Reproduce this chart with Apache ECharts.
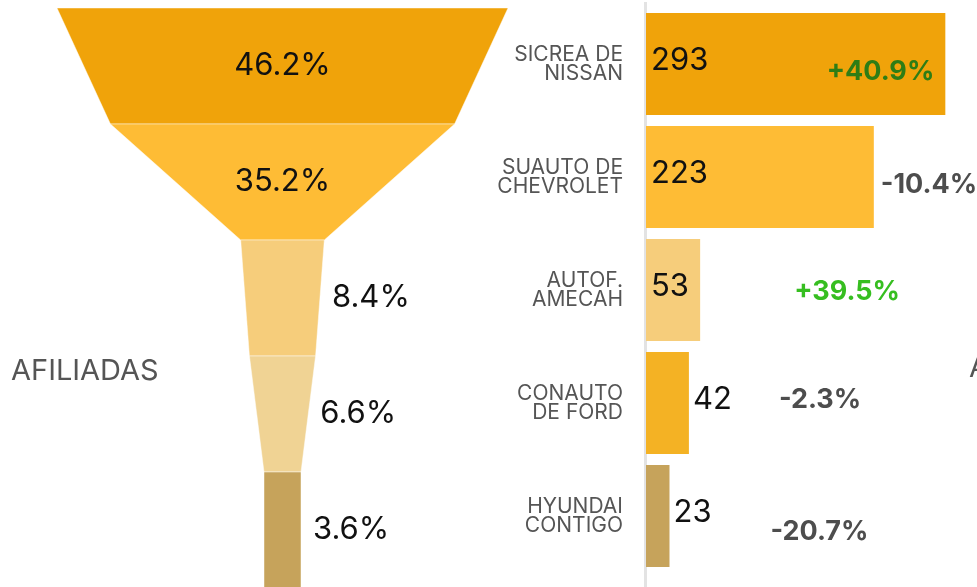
<!DOCTYPE html>
<html>
<head>
<meta charset="utf-8">
<script src="https://cdn.jsdelivr.net/npm/echarts@6/dist/echarts.min.js"></script>
<style>
  html, body { margin: 0; padding: 0; background: #fff; }
  #chart { width: 977px; height: 587px; }
</style>
</head>
<body>
<div id="chart"></div>
<script>
// cuota de mercado por afiliada (%)
var shares = [46.2, 35.2, 8.4, 6.6, 3.6];
var dealers = ['SICREA DE\nNISSAN', 'SUAUTO DE\nCHEVROLET', 'AUTOF.\nAMECAH', 'CONAUTO\nDE FORD', 'HYUNDAI\nCONTIGO'];
var units = [293, 223, 53, 42, 23];
var changes = [40.9, -10.4, 39.5, -2.3, -20.7];

var funnelColors = ['#F0A30A', '#FEBC35', '#F6CD7B', '#F0D394', '#C6A35B'];
var barColors = ['#F0A30A', '#FEBC35', '#F6CD7B', '#F4B224', '#C6A35B'];
var changeColors = ['#2E7D15', '#4D4D4D', '#36BE20', '#4D4D4D', '#4D4D4D'];
// donde va cada etiqueta de variacion
var changeLabelPos = [
    {position: 'insideRight', distance: 11, offset: [0, 8]},
    {position: 'right', distance: 7, offset: [0, 8]},
    {position: 'right', distance: 94, offset: [0, 2]},
    {position: 'right', distance: 90, offset: [0, -3]},
    {position: 'right', distance: 101, offset: [0, 16]}
];

var FONT = 'Inter';

var chart = echarts.init(document.getElementById('chart'), null, {renderer: 'canvas'});

var funnelData = shares.map(function (v, i) {
    return {
        name: dealers[i],
        value: v,
        itemStyle: {color: funnelColors[i]},
        label: {position: i < 2 ? 'inside' : 'right'}
    };
});

var barData = units.map(function (v, i) {
    return {
        value: v,
        itemStyle: {color: barColors[i]},
        label: v > 50 ? {position: 'insideLeft', distance: 5} : {position: 'right', distance: 4}
    };
});

var changeData = units.map(function (v, i) {
    var p = changeLabelPos[i];
    return {
        value: v,
        label: {
            position: p.position,
            distance: p.distance,
            offset: p.offset,
            color: changeColors[i]
        }
    };
});

var option = {
    backgroundColor: '#fff',
    animation: false,
    textStyle: {fontFamily: FONT},
    title: {
        text: 'AFILIADAS',
        left: 6,
        top: 352,
        textStyle: {fontFamily: FONT, fontSize: 29, fontWeight: 'normal', color: '#555'}
    },
    graphic: [
        {
            type: 'rect',
            shape: {x: 644, y: 2, width: 3, height: 585},
            style: {fill: '#E3E3E3'},
            z: 0
        },
        {
            type: 'text',
            x: 969,
            y: 354,
            style: {text: 'A', font: '29px ' + FONT, fill: '#555'}
        }
    ],
    grid: {
        left: 646,
        right: 0,
        top: 7.5,
        height: 565
    },
    xAxis: {
        type: 'value',
        min: 0,
        max: 324,
        show: false
    },
    yAxis: {
        type: 'category',
        data: dealers,
        inverse: true,
        axisLine: {show: false},
        axisTick: {show: false},
        axisLabel: {
            margin: 23,
            fontFamily: FONT,
            fontSize: 21,
            lineHeight: 19,
            color: '#555',
            align: 'right'
        }
    },
    series: [
        {
            type: 'funnel',
            left: 57,
            top: 8,
            width: 451,
            height: 580,
            min: 3.6,
            max: 46.2,
            minSize: '8.2%',
            maxSize: '100%',
            sort: 'none',
            gap: 0,
            itemStyle: {borderColor: 'rgba(255,255,255,0.45)', borderWidth: 1},
            label: {
                show: true,
                formatter: '{c}%',
                fontFamily: FONT,
                fontSize: 31,
                color: '#111'
            },
            labelLine: {show: false, length: 7},
            emphasis: {disabled: true},
            data: funnelData
        },
        {
            type: 'bar',
            barWidth: 102,
            data: barData,
            label: {
                show: true,
                fontFamily: FONT,
                fontSize: 31,
                color: '#111',
                offset: [0, -3]
            },
            z: 3
        },
        {
            type: 'bar',
            barWidth: 102,
            barGap: '-100%',
            silent: true,
            itemStyle: {color: 'transparent'},
            data: changeData,
            label: {
                show: true,
                fontFamily: FONT,
                fontSize: 27,
                fontWeight: 'bold',
                formatter: function (p) {
                    var c = changes[p.dataIndex];
                    return (c > 0 ? '+' : '') + c.toFixed(1) + '%';
                }
            },
            z: 4
        }
    ]
};

chart.setOption(option);
</script>
</body>
</html>
